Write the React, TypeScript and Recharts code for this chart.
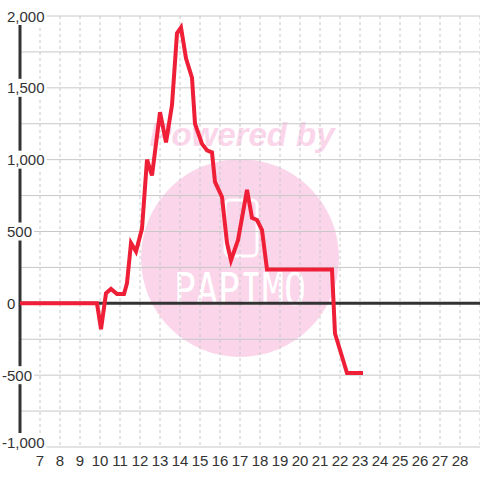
import { LineChart, Line, XAxis, YAxis, CartesianGrid, ReferenceLine } from "recharts";

const hours = [
  6, 9.85, 10.05, 10.3, 10.55, 10.85, 11.2, 11.35, 11.55, 11.8, 12.1, 12.35, 12.6,
  13.0, 13.3, 13.6, 13.85, 14.05, 14.3, 14.6, 14.75, 15.1, 15.35, 15.6, 15.75,
  16.1, 16.35, 16.55, 16.9, 17.35, 17.6, 17.85, 18.1, 18.35, 21.6, 21.75, 22.35, 23.15,
];
const power = [
  0, 0, -180, 70, 100, 65, 65, 140, 420, 360, 520, 1000, 890,
  1330, 1120, 1380, 1880, 1920, 1705, 1570, 1250, 1110, 1065, 1050, 845,
  740, 420, 300, 440, 790, 595, 580, 510, 235, 235, -210, -485, -485,
];
const xTicks = [7, 8, 9, 10, 11, 12, 13, 14, 15, 16, 17, 18, 19, 20, 21, 22, 23, 24, 25, 26, 27, 28];
const yTicks = [-1000, -750, -500, -250, 0, 250, 500, 750, 1000, 1250, 1500, 1750, 2000];

const data = hours.map((h, i) => ({ h, v: power[i] }));

const FONT = "'Liberation Sans', Arial, sans-serif";

function textWidth(s: string) {
  let w = 0;
  for (const c of s) w += c === "," ? 4.2 : c === "-" ? 5 : 8.35;
  return w;
}

function YTick(props: any) {
  const { payload } = props;
  const v = payload.value;
  if (v % 500 !== 0) return <g />;
  // lowest label sits above the bottom edge instead of centred on it
  const y = v === -1000 ? props.y - 5 : props.y;
  const label = v.toLocaleString("en-US");
  const tx = v < 0 ? 2 : 7;
  const w = textWidth(label);
  return (
    <g>
      <rect x={tx - 2} y={y - 9} width={w + 4} height={18} fill="#fff" />
      <text x={tx} y={y} dy={5.5} fontSize={15} fontFamily={FONT} fill="#333" textAnchor="start">
        {label}
      </text>
    </g>
  );
}

function XTick(props: any) {
  const { x, payload } = props;
  return (
    <text x={x} y={466} fontSize={15} fontFamily={FONT} fill="#333" textAnchor="middle">
      {payload.value}
    </text>
  );
}

function Watermark() {
  return (
    <svg width={480} height={480} style={{ position: "absolute", left: 0, top: 0 }}>
      <circle cx={240} cy={258} r={99} fill="#fbd5ea" />
      <text x={242} y={146} textAnchor="middle" fontSize={33} fontWeight="bold" fontStyle="italic" fontFamily={FONT} fill="#fbd5ea">
        Powered by
      </text>
      <rect x={225} y={200} width={32} height={56} rx={5} fill="none" stroke="#fff" strokeWidth={3} />
      <text x={174} y={305} fontSize={44} fontFamily="'DejaVu Sans Mono', monospace" fill="#fff" textLength={132} lengthAdjust="spacingAndGlyphs">
        PAPIMO
      </text>
    </svg>
  );
}

export default function App() {
  return (
    <div style={{ position: "absolute", left: 0, top: 0, width: 480, height: 480, background: "#fff" }}>
      <Watermark />
      <div style={{ position: "absolute", left: 0, top: 0 }}>
        <LineChart width={480} height={480} data={data} margin={{ top: 16, right: 0, bottom: 3, left: 0 }}>
          <CartesianGrid horizontal={true} vertical={false} stroke="#c8c8c8" />
          <CartesianGrid horizontal={false} vertical={true} stroke="#c8c8c8" strokeDasharray="3 3" />
          <ReferenceLine x={6} stroke="#333" strokeWidth={3} />
          <ReferenceLine y={0} stroke="#333" strokeWidth={3} />
          <XAxis dataKey="h" type="number" domain={[6, 29]} ticks={xTicks} height={30} axisLine={false} tickLine={false} tick={<XTick />} interval={0} />
          <YAxis type="number" domain={[-1000, 2000]} ticks={yTicks} width={20} axisLine={false} tickLine={false} tick={<YTick />} interval={0} />
          <Line type="linear" dataKey="v" stroke="#ee1f36" strokeWidth={4} dot={false} isAnimationActive={false} />
        </LineChart>
      </div>
    </div>
  );
}
